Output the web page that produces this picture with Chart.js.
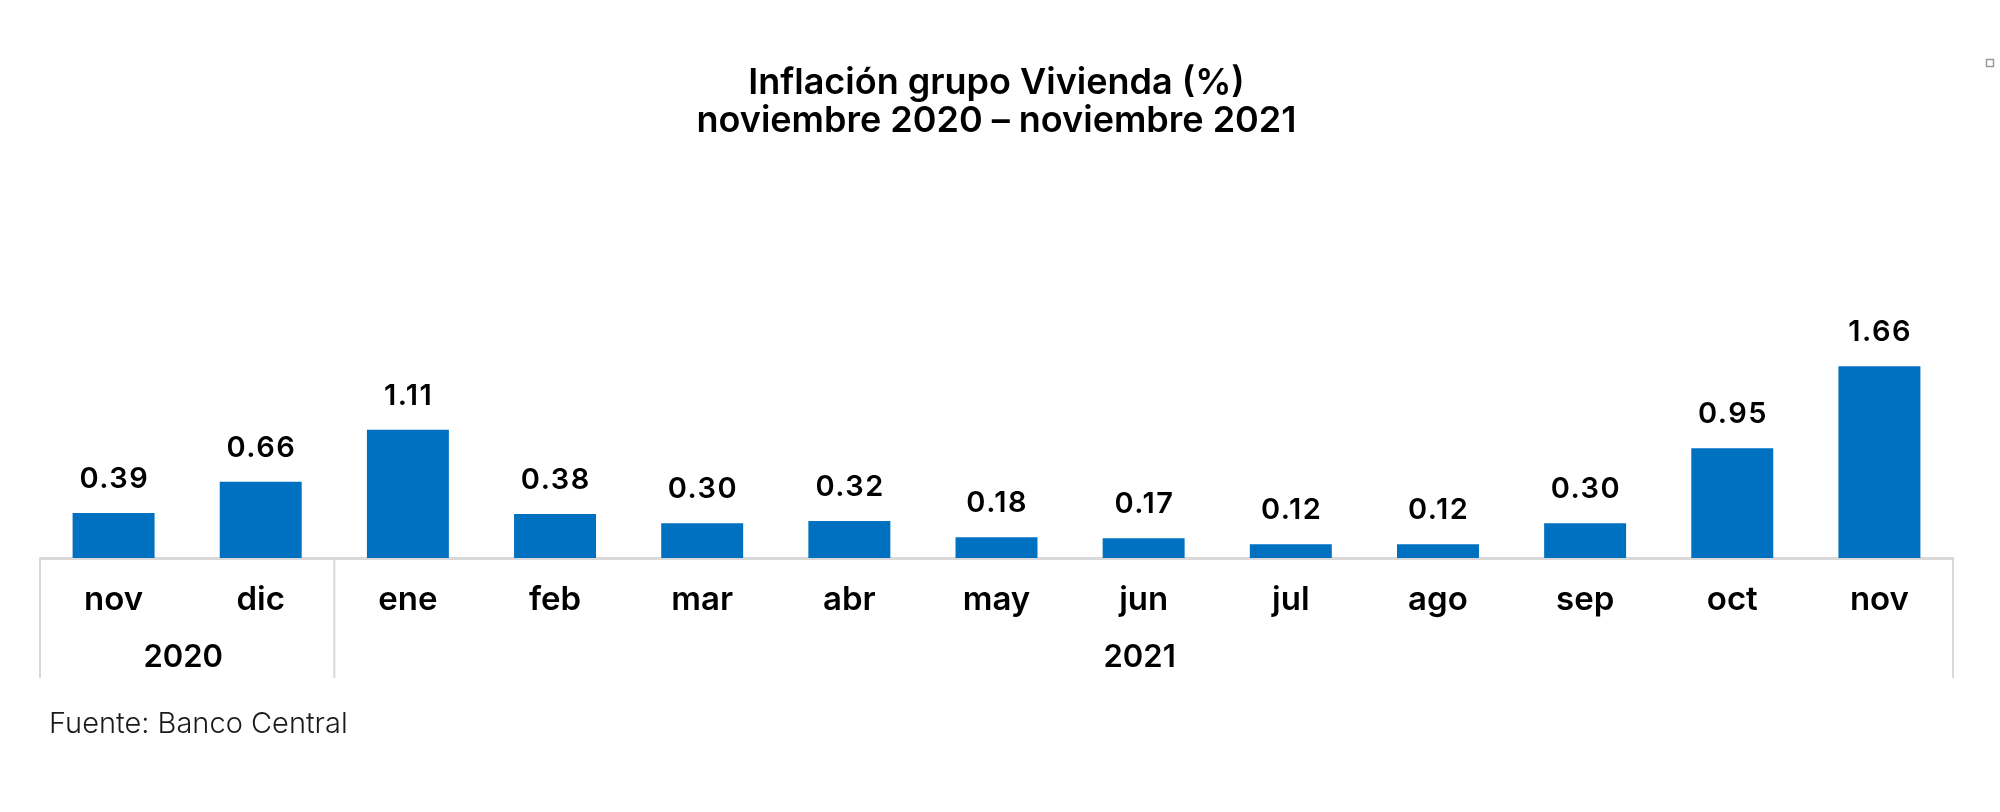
<!DOCTYPE html>
<html><head><meta charset="utf-8">
<script src="https://cdn.jsdelivr.net/npm/chart.js@4.4.1/dist/chart.umd.min.js"></script>
<style>html,body{margin:0;padding:0;background:#fff;overflow:hidden}#wrap{width:2000px;height:812px}</style>
</head><body><div id="wrap"><canvas id="c" width="2000" height="812"></canvas></div>
<script>
const titleLines = ['Inflación grupo Vivienda (%)', 'noviembre 2020 – noviembre 2021'];
const months = ['nov','dic','ene','feb','mar','abr','may','jun','jul','ago','sep','oct','nov'];
const years = ['2020','2020','2021','2021','2021','2021','2021','2021','2021','2021','2021','2021','2021'];
const values = [0.39,0.66,1.11,0.38,0.30,0.32,0.18,0.17,0.12,0.12,0.30,0.95,1.66];
const sourceText = 'Fuente: Banco Central';

const FONT = 'Inter';
const BLUE = '#0070C0';
const GRAY = '#d9d9d9';

const extras = {
  id: 'extras',
  afterDraw(chart) {
    const ctx = chart.ctx;
    const x = chart.scales.x;
    const ca = chart.chartArea;
    const boxBottom = ca.bottom + 120;
    ctx.save();
    // group boundaries
    const bounds = [ca.left];
    for (let i = 1; i < years.length; i++) {
      if (years[i] !== years[i-1]) bounds.push((x.getPixelForValue(i-1) + x.getPixelForValue(i)) / 2);
    }
    bounds.push(ca.right);
    ctx.strokeStyle = GRAY; ctx.lineWidth = 2;
    bounds.forEach(b => { ctx.beginPath(); ctx.moveTo(b, ca.bottom); ctx.lineTo(b, boxBottom); ctx.stroke(); });
    // year labels
    ctx.fillStyle = '#000';
    ctx.font = '600 31px ' + FONT;
    ctx.textAlign = 'center'; ctx.textBaseline = 'middle';
    let start = 0;
    for (let i = 1; i <= years.length; i++) {
      if (i === years.length || years[i] !== years[start]) {
        const cx = (x.getPixelForValue(start) + x.getPixelForValue(i-1)) / 2;
        ctx.fillText(years[start], cx - 4, ca.bottom + 100);
        start = i;
      }
    }
    // data labels
    const meta = chart.getDatasetMeta(0);
    ctx.font = '600 29px ' + FONT;
    ctx.letterSpacing = '1.5px';
    ctx.textBaseline = 'alphabetic';
    meta.data.forEach((bar, i) => {
      ctx.fillText(values[i].toFixed(2), bar.x + 0.75, bar.y - 25);
    });
    ctx.letterSpacing = '0px';
    // source
    ctx.textAlign = 'left'; ctx.textBaseline = 'middle';
    ctx.font = '300 29px ' + FONT;
    ctx.fillStyle = '#1a1a1a';
    ctx.fillText(sourceText, 49, 724);
    // small marker top-right
    ctx.strokeStyle = '#9a9a9a'; ctx.lineWidth = 1.5;
    ctx.strokeRect(1986.5, 59.5, 7, 7);
    ctx.restore();
  }
};

new Chart(document.getElementById('c'), {
  type: 'bar',
  data: {
    labels: months,
    datasets: [{ data: values, backgroundColor: BLUE, categoryPercentage: 1, barPercentage: 0.557 }]
  },
  options: {
    responsive: false, devicePixelRatio: 1, animation: false,
    layout: { padding: { left: 40, right: 47, top: 0, bottom: 0 } },
    plugins: {
      legend: { display: false }, tooltip: { enabled: false },
      title: {
        display: true, text: titleLines, color: '#000',
        font: { family: FONT, weight: '600', size: 36, lineHeight: 38/36 },
        padding: { top: 64, bottom: 60 }
      }
    },
    scales: {
      y: { display: false, min: 0, max: 3.1 },
      x: {
        grid: { display: true, drawOnChartArea: false, drawTicks: false, color: 'rgba(0,0,0,0)' },
        border: { display: true, color: GRAY, width: 3 },
        ticks: { color: '#000', font: { family: FONT, weight: '600', size: 33 }, padding: 22, maxRotation: 0, autoSkip: false },
        afterFit: (s) => { s.height = 254; }
      }
    }
  },
  plugins: [extras]
});
</script></body></html>
